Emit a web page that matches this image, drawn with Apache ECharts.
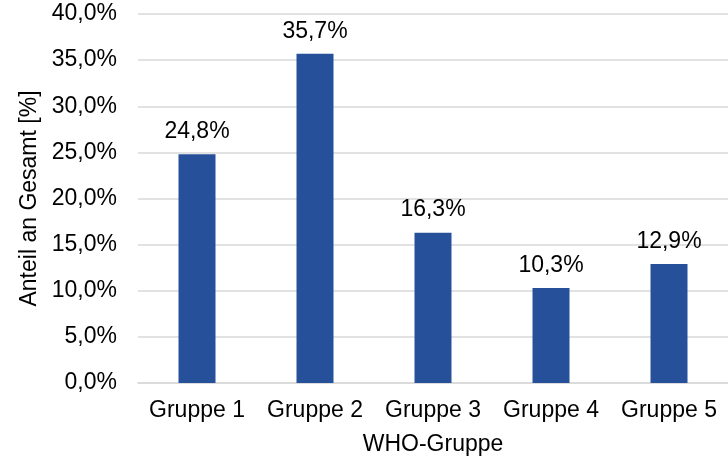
<!DOCTYPE html>
<html><head><meta charset="utf-8">
<script src="https://cdn.jsdelivr.net/npm/echarts@6/dist/echarts.min.js"></script>
<style>html,body{margin:0;padding:0;background:#fff}#c{width:728px;height:462px}</style>
</head><body><div id="c"></div>
<script>
const categories = ['Gruppe 1','Gruppe 2','Gruppe 3','Gruppe 4','Gruppe 5'];
const values = [24.8, 35.7, 16.3, 10.3, 12.9];
const yTicks = [0,5,10,15,20,25,30,35,40];
const fmt = v => v.toFixed(1).replace('.', ',') + '%';
const chart = echarts.init(document.getElementById('c'));
const font = 'Liberation Sans';
const fs = 23;
chart.setOption({
  animation:false,
  grid:{left:138,right:0,top:14,bottom:79,containLabel:false,outerBoundsMode:'none'},
  xAxis:{type:'category',data:categories,
    axisLine:{lineStyle:{color:'#d9d9d9',width:1.5}},axisTick:{show:false},
    axisLabel:{color:'#000',fontFamily:font,fontSize:fs,margin:16,interval:0},
    name:'WHO-Gruppe',nameLocation:'middle',nameGap:50,
    nameTextStyle:{color:'#000',fontFamily:font,fontSize:fs}},
  yAxis:{type:'value',min:0,max:40,interval:5,
    axisLine:{show:false},axisTick:{show:false},
    splitLine:{lineStyle:{color:'#d9d9d9',width:1.5}},
    axisLabel:{color:'#000',fontFamily:font,fontSize:fs,margin:21,formatter:v=>fmt(v)},
    name:'Anteil an Gesamt [%]',nameLocation:'middle',nameGap:89,
    nameTextStyle:{color:'#000',fontFamily:font,fontSize:fs}},
  series:[{type:'bar',data:values,barWidth:37,
    itemStyle:{color:'#27509b'},
    label:{show:true,position:'top',distance:11,color:'#000',fontFamily:font,fontSize:fs,formatter:p=>fmt(p.value)}}]
});
</script></body></html>
